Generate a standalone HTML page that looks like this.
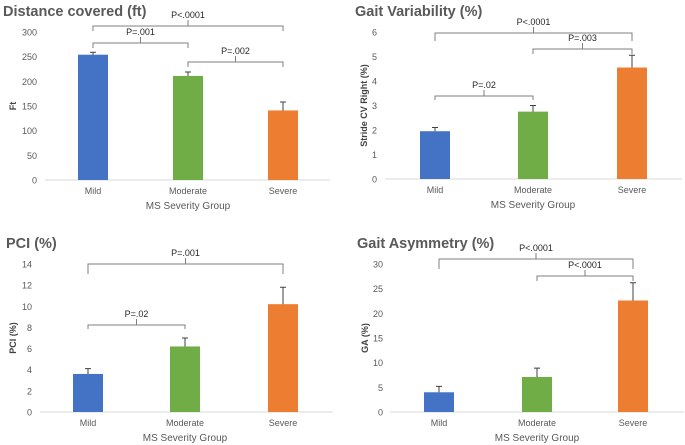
<!DOCTYPE html>
<html><head><meta charset="utf-8"><style>
html,body{margin:0;padding:0;background:#fff;}
svg{display:block;font-family:"Liberation Sans",sans-serif;}
</style></head><body>
<svg id="c" width="685" height="445" viewBox="0 0 685 445"></svg>
<script>
const categories=["Mild","Moderate","Severe"];
const distVals=[254,211,141];
const distErr=[5,8,17];
const distTicks=[0,50,100,150,200,250,300];
const varVals=[1.95,2.75,4.55];
const varErr=[0.15,0.25,0.5];
const varTicks=[0,1,2,3,4,5,6];
const pciVals=[3.6,6.2,10.2];
const pciErr=[0.5,0.8,1.6];
const pciTicks=[0,2,4,6,8,10,12,14];
const gaVals=[4,7.1,22.6];
const gaErr=[1.2,1.8,3.6];
const gaTicks=[0,5,10,15,20,25,30];
const colors=["#4472c4","#70ad47","#ed7d31"];
const NS="http://www.w3.org/2000/svg";
const svg=document.getElementById('c');
function mk(tag,attrs,parent,text){const e=document.createElementNS(NS,tag);for(const k in attrs)e.setAttribute(k,attrs[k]);if(text!==undefined)e.textContent=text;(parent||svg).appendChild(e);return e;}
function panel(p){
  const g=mk('g',{});
  
  
  const max=p.ticks[p.ticks.length-1];
  const y=v=>p.y0-(v/max)*(p.y0-p.yTop);
  const t=mk('text',{x:p.titleX,y:p.titleY,'font-size':14.5,'font-weight':'bold',fill:'#595959'},g,p.title);
  
  
  p.ticks.forEach(v=>{const tl=mk('text',{x:p.tickX,y:y(v)+3.5,'font-size':9,fill:'#595959','text-anchor':'end'},g,String(v));
    
    });
  const ax=mk('line',{x1:p.ax0,x2:p.ax1,y1:p.y0,y2:p.y0,stroke:'#d9d9d9','stroke-width':1},g);
  
  
  const yl=mk('text',{x:0,y:0,'font-size':9,'font-weight':'bold',fill:'#404040','text-anchor':'middle',transform:`translate(${p.ylX},${(p.y0+p.yTop)/2}) rotate(-90)`},g,p.ylabel);
  
  
  categories.forEach((c,i)=>{
    const cx=p.xs[i];const top=y(p.vals[i]);
    const b=mk('rect',{x:cx-15,y:top,width:30,height:p.y0-top,fill:colors[i]},g);
    
    
    const et=y(p.vals[i]+p.err[i]);
    const e=mk('path',{d:`M${cx},${top}V${et}M${cx-3},${et}H${cx+3}`,stroke:'#404040','stroke-width':1,fill:'none'},g);
    
    
    const cl=mk('text',{x:cx,y:p.y0+14,'font-size':9,fill:'#595959','text-anchor':'middle'},g,c);
    
    
  });
  const xt=mk('text',{x:p.xs[1],y:p.y0+29,'font-size':10,fill:'#595959','text-anchor':'middle'},g,'MS Severity Group');
  
  
  p.br.forEach(b=>{
    const x1=p.xs[b[0]],x2=p.xs[b[1]],by=b[2],leg=b[3],m=(x1+x2)/2;
    const pa=mk('path',{d:`M${x1},${by+leg}V${by}H${x2}V${by+leg}M${m},${by}V${by-6}`,stroke:'#7f7f7f','stroke-width':1,fill:'none'},g);
    
    
    const lt=mk('text',{x:m+(b[5]||0),y:by-8,'font-size':9,fill:'#262626','text-anchor':'middle'},g,b[4]);
    
    
  });
}
panel({name:'distance-panel',title:'Distance covered (ft)',titleX:3,titleY:16,ticks:distTicks,vals:distVals,err:distErr,y0:180,yTop:32,tickX:37,ax0:45,ax1:330,ylX:16,ylabel:'Ft',xs:[93,188,283],
  br:[[0,2,26,5,'P<.0001'],[0,1,43,5,'P=.001'],[1,2,62,5,'P=.002']]});
panel({name:'gait-variability-panel',title:'Gait Variability (%)',titleX:355,titleY:16,ticks:varTicks,vals:varVals,err:varErr,y0:179,yTop:32,tickX:377,ax0:385,ax1:682,ylX:367,ylabel:'Stride CV Right (%)',xs:[435,533,632],
  br:[[0,2,33,8,'P<.0001'],[1,2,49,5,'P=.003'],[0,1,96,4,'P=.02']]});
panel({name:'pci-panel',title:'PCI (%)',titleX:6,titleY:248,ticks:pciTicks,vals:pciVals,err:pciErr,y0:412,yTop:264,tickX:32,ax0:40,ax1:333,ylX:16,ylabel:'PCI (%)',xs:[88,185,283],
  br:[[0,2,264,10,'P=.001'],[0,1,325,4,'P=.02']]});
panel({name:'gait-asymmetry-panel',title:'Gait Asymmetry (%)',titleX:357,titleY:248,ticks:gaTicks,vals:gaVals,err:gaErr,y0:412,yTop:264,tickX:383,ax0:390,ax1:684,ylX:368,ylabel:'GA (%)',xs:[439,537,633],
  br:[[0,2,259,10,'P<.0001'],[1,2,276,5,'P<.0001']]});
</script>
</body></html>
